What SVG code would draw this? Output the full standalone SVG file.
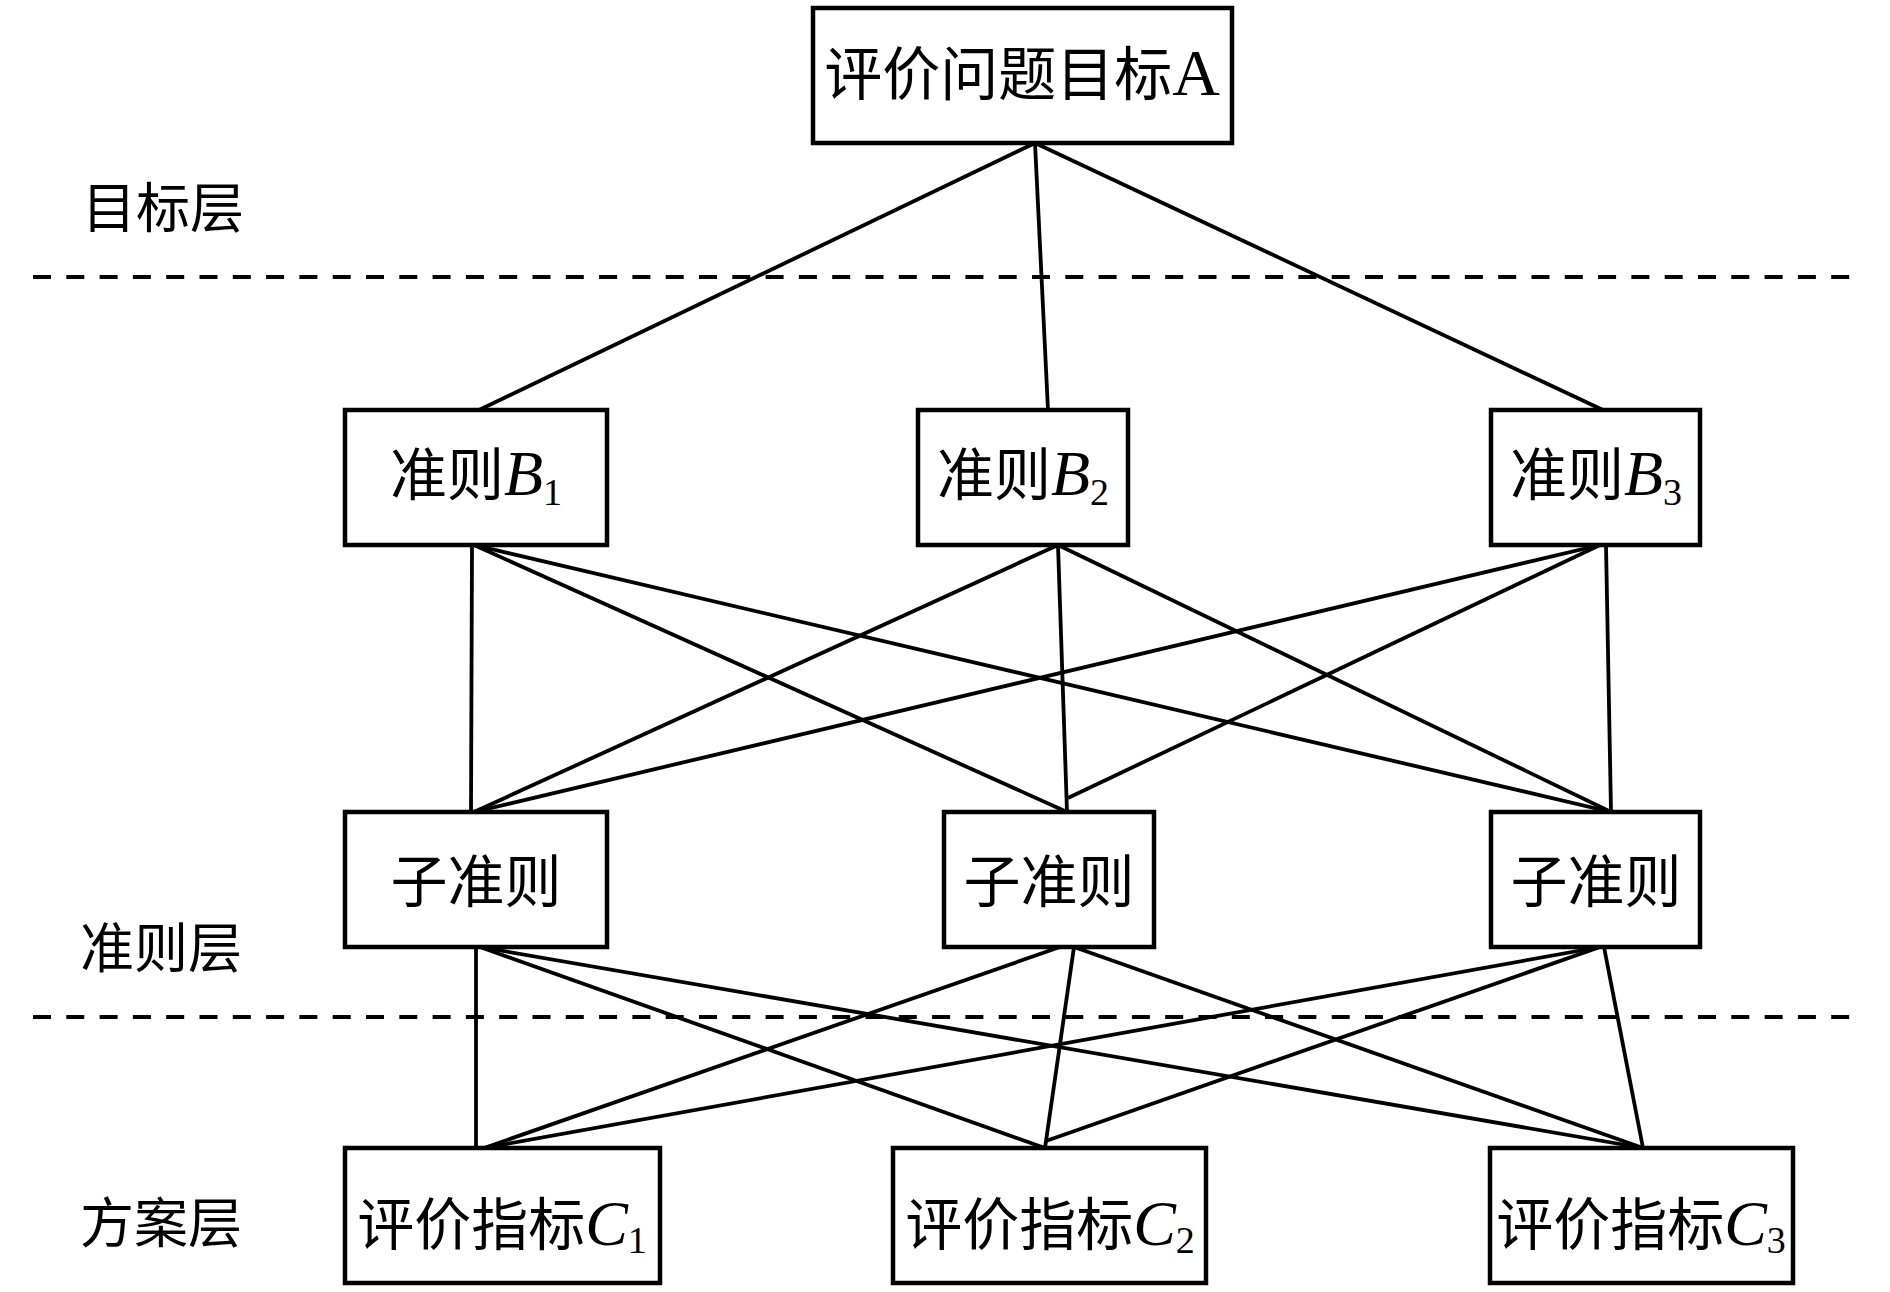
<svg xmlns="http://www.w3.org/2000/svg" width="1890" height="1292" viewBox="0 0 1890 1292">
<style>
.box{fill:#fff;stroke:#000;stroke-width:4.5}
.lbl{font-family:"Liberation Serif","Noto Sans CJK SC",serif;font-size:57px;fill:#000;text-anchor:middle}
.layer{font-family:"Liberation Serif","Noto Sans CJK SC",serif;font-size:54px;fill:#000;text-anchor:middle}
.it{font-style:italic;font-size:64px}
.big{font-size:66px}
.sub{font-size:38px}
.conn line{stroke:#000;stroke-width:3.8;fill:none}
.dash{stroke:#000;stroke-width:3.8;stroke-dasharray:18 15.3;fill:none}
</style>
<rect width="1890" height="1292" fill="#fff"/>
<g id="layers">
<line class="dash" x1="33" y1="277" x2="1862" y2="277"/>
<line class="dash" x1="33" y1="1017" x2="1862" y2="1017"/>
<text class="layer" x="163" y="228">目标层</text>
<text class="layer" x="161" y="968">准则层</text>
<text class="layer" x="161" y="1243">方案层</text>
</g>
<g class="conn" id="connectors">
<line x1="1035" y1="143" x2="479" y2="410"/>
<line x1="1035" y1="143" x2="1048" y2="410"/>
<line x1="1035" y1="143" x2="1603" y2="410"/>
<line x1="472" y1="545" x2="471" y2="812"/>
<line x1="474" y1="545" x2="1067" y2="812"/>
<line x1="474" y1="545" x2="1611" y2="812"/>
<line x1="1058" y1="545" x2="474" y2="812"/>
<line x1="1058" y1="545" x2="1067" y2="812"/>
<line x1="1058" y1="545" x2="1611" y2="812"/>
<line x1="1600" y1="545" x2="474" y2="812"/>
<line x1="1600" y1="545" x2="1068" y2="798"/>
<line x1="1606" y1="545" x2="1611" y2="812"/>
<line x1="476" y1="947" x2="476" y2="1148"/>
<line x1="480" y1="947" x2="1045" y2="1148"/>
<line x1="480" y1="947" x2="1643" y2="1148"/>
<line x1="1060" y1="947" x2="484" y2="1148"/>
<line x1="1074" y1="947" x2="1045" y2="1148"/>
<line x1="1074" y1="947" x2="1643" y2="1148"/>
<line x1="1600" y1="947" x2="484" y2="1148"/>
<line x1="1600" y1="947" x2="1046" y2="1141"/>
<line x1="1604" y1="947" x2="1643" y2="1148"/>
</g>
<g id="nodeA">
<rect class="box" x="813" y="8" width="419" height="135"/>
<text class="lbl" x="1022" y="95" style="font-size:58px">评价问题目标<tspan class="big">A</tspan></text>
</g>
<g id="nodeB1">
<rect class="box" x="345" y="410" width="262" height="135"/>
<text class="lbl" x="476" y="495">准则<tspan class="it">B</tspan><tspan class="sub" dy="10">1</tspan></text>
</g>
<g id="nodeB2">
<rect class="box" x="918" y="410" width="210" height="135"/>
<text class="lbl" x="1023" y="495">准则<tspan class="it">B</tspan><tspan class="sub" dy="10">2</tspan></text>
</g>
<g id="nodeB3">
<rect class="box" x="1491" y="410" width="209" height="135"/>
<text class="lbl" x="1596" y="495">准则<tspan class="it">B</tspan><tspan class="sub" dy="10">3</tspan></text>
</g>
<g id="nodeS1">
<rect class="box" x="345" y="812" width="262" height="135"/>
<text class="lbl" x="476" y="902">子准则</text>
</g>
<g id="nodeS2">
<rect class="box" x="944" y="812" width="210" height="135"/>
<text class="lbl" x="1049" y="902">子准则</text>
</g>
<g id="nodeS3">
<rect class="box" x="1491" y="812" width="209" height="135"/>
<text class="lbl" x="1596" y="902">子准则</text>
</g>
<g id="nodeC1">
<rect class="box" x="345" y="1148" width="315" height="135"/>
<text class="lbl" x="502" y="1245">评价指标<tspan class="it">C</tspan><tspan class="sub" dy="8">1</tspan></text>
</g>
<g id="nodeC2">
<rect class="box" x="893" y="1148" width="313" height="135"/>
<text class="lbl" x="1050" y="1245">评价指标<tspan class="it">C</tspan><tspan class="sub" dy="8">2</tspan></text>
</g>
<g id="nodeC3">
<rect class="box" x="1490" y="1148" width="303" height="135"/>
<text class="lbl" x="1641" y="1245">评价指标<tspan class="it">C</tspan><tspan class="sub" dy="8">3</tspan></text>
</g>
</svg>
